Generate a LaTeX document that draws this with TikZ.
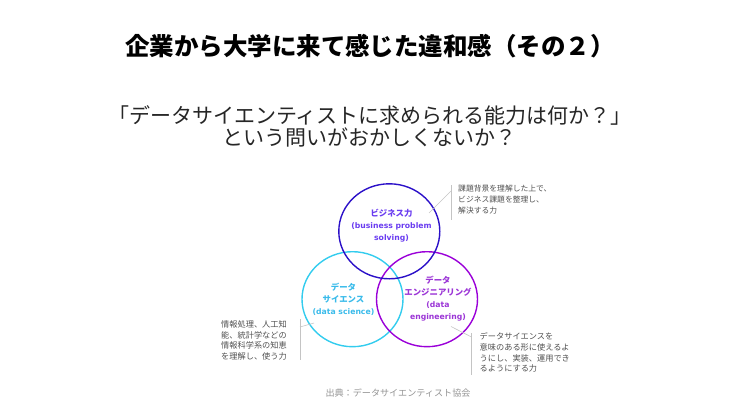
\documentclass[tikz,border=0pt]{standalone}
\usepackage{xcolor}
\usepackage{fontspec}
\usepackage{tikz}
\usetikzlibrary{shapes.geometric}

\newfontfamily\jpfont{Noto Sans CJK JP}
\newfontfamily\verdfont{DejaVu Sans}
\newcommand{\jb}[1]{{\jpfont\bfseries\fontsize{8.4}{10.8}\selectfont #1}}
\newcommand{\lb}[1]{{\verdfont\bfseries\fontsize{7.7}{10.8}\selectfont #1}}

\definecolor{bizblue}{HTML}{2B10C8}
\definecolor{biztext}{HTML}{6A3CF0}
\definecolor{scicyan}{HTML}{33CCEE}
\definecolor{scitext}{HTML}{3ABBEA}
\definecolor{engpurple}{HTML}{9A00D8}
\definecolor{engtext}{HTML}{9B35D6}
\definecolor{notegray}{HTML}{505050}
\definecolor{linegray}{HTML}{C4C4C4}

\tikzset{
    skill/.style={ellipse, draw, line width=1.4pt, minimum width=101pt, minimum height=95pt, inner sep=0pt},
    skilltext/.style={align=center, inner sep=0pt},
    note/.style={align=left, inner sep=0pt, anchor=north west, text=notegray, font=\jpfont\fontsize{8.2}{10.6}\selectfont},
    callout/.style={draw=linegray, line width=0.6pt},
}

\begin{document}
\begin{tikzpicture}[x=1pt, y=-1pt]
        \useasboundingbox (0,0) rectangle (740,415);
        % headings
        \node[font=\jpfont\bfseries\fontsize{24.5}{28}\selectfont] (title) at (370,46) {企業から大学に来て感じた違和感（その２）};
        \node[align=center, text=black!85, font=\jpfont\fontsize{21}{22}\selectfont] (question) at (370,126)
            {「データサイエンティストに求められる能力は何か？」\\ という問いがおかしくないか？};
        % the three skills
        \node[skill, draw=scicyan] (sci) at (352.5,299.2) {};
        \node[skill, draw=engpurple] (eng) at (427,299.2) {};
        \node[skill, draw=bizblue] (biz) at (389.3,231.3) {};
        \node[skilltext, text=biztext] (biztxt) at (391.5,225.5) {\jb{ビジネス力}\\ \lb{(business problem}\\ \lb{solving)}};
        \node[skilltext, text=scitext] (scitxt) at (343.5,299.5) {\jb{データ}\\ \jb{サイエンス}\\ \lb{(data science)}};
        \node[skilltext, text=engtext] (engtxt) at (438,298.3) {\jb{データ}\\ \jb{エンジニアリング}\\ \lb{(data}\\ \lb{engineering)}};
        % notes
        \node[note, font=\jpfont\fontsize{7.8}{11}\selectfont] (biznote) at (458,184.5) {課題背景を理解した上で、\\ ビジネス課題を整理し、\\ 解決する力};
        \node[note] (scinote) at (221,320.7) {情報処理、人工知\\ 能、統計学などの\\ 情報科学系の知恵\\ を理解し、使う力};
        \node[note] (engnote) at (479.5,332.7) {データサイエンスを\\ 意味のある形に使えるよ\\ うにし、実装、運用でき\\ るようにする力};
        \coordinate (bizbarA) at (451,185);
        \coordinate (bizbarB) at (451,220);
        \coordinate (bizhook) at (451,191);
        \coordinate (biztip) at (429,213);
        \coordinate (scibarA) at (300,319);
        \coordinate (scibarB) at (300,360);
        \coordinate (scihook) at (300,327);
        \coordinate (scitip) at (314,323);
        \coordinate (engbarA) at (471.5,333);
        \coordinate (engbarB) at (471.5,375);
        \coordinate (enghook) at (471.5,337);
        \coordinate (engtip) at (451,326.5);
        \draw[callout] (bizbarA) -- (bizbarB);
        \draw[callout] (bizhook) -- (biztip);
        \draw[callout] (scibarA) -- (scibarB);
        \draw[callout] (scihook) -- (scitip);
        \draw[callout] (engbarA) -- (engbarB);
        \draw[callout] (enghook) -- (engtip);
        % source
        \node[text=black!42, font=\jpfont\fontsize{9.1}{11}\selectfont] (source) at (398,393) {出典：データサイエンティスト協会};
\end{tikzpicture}
\end{document}
